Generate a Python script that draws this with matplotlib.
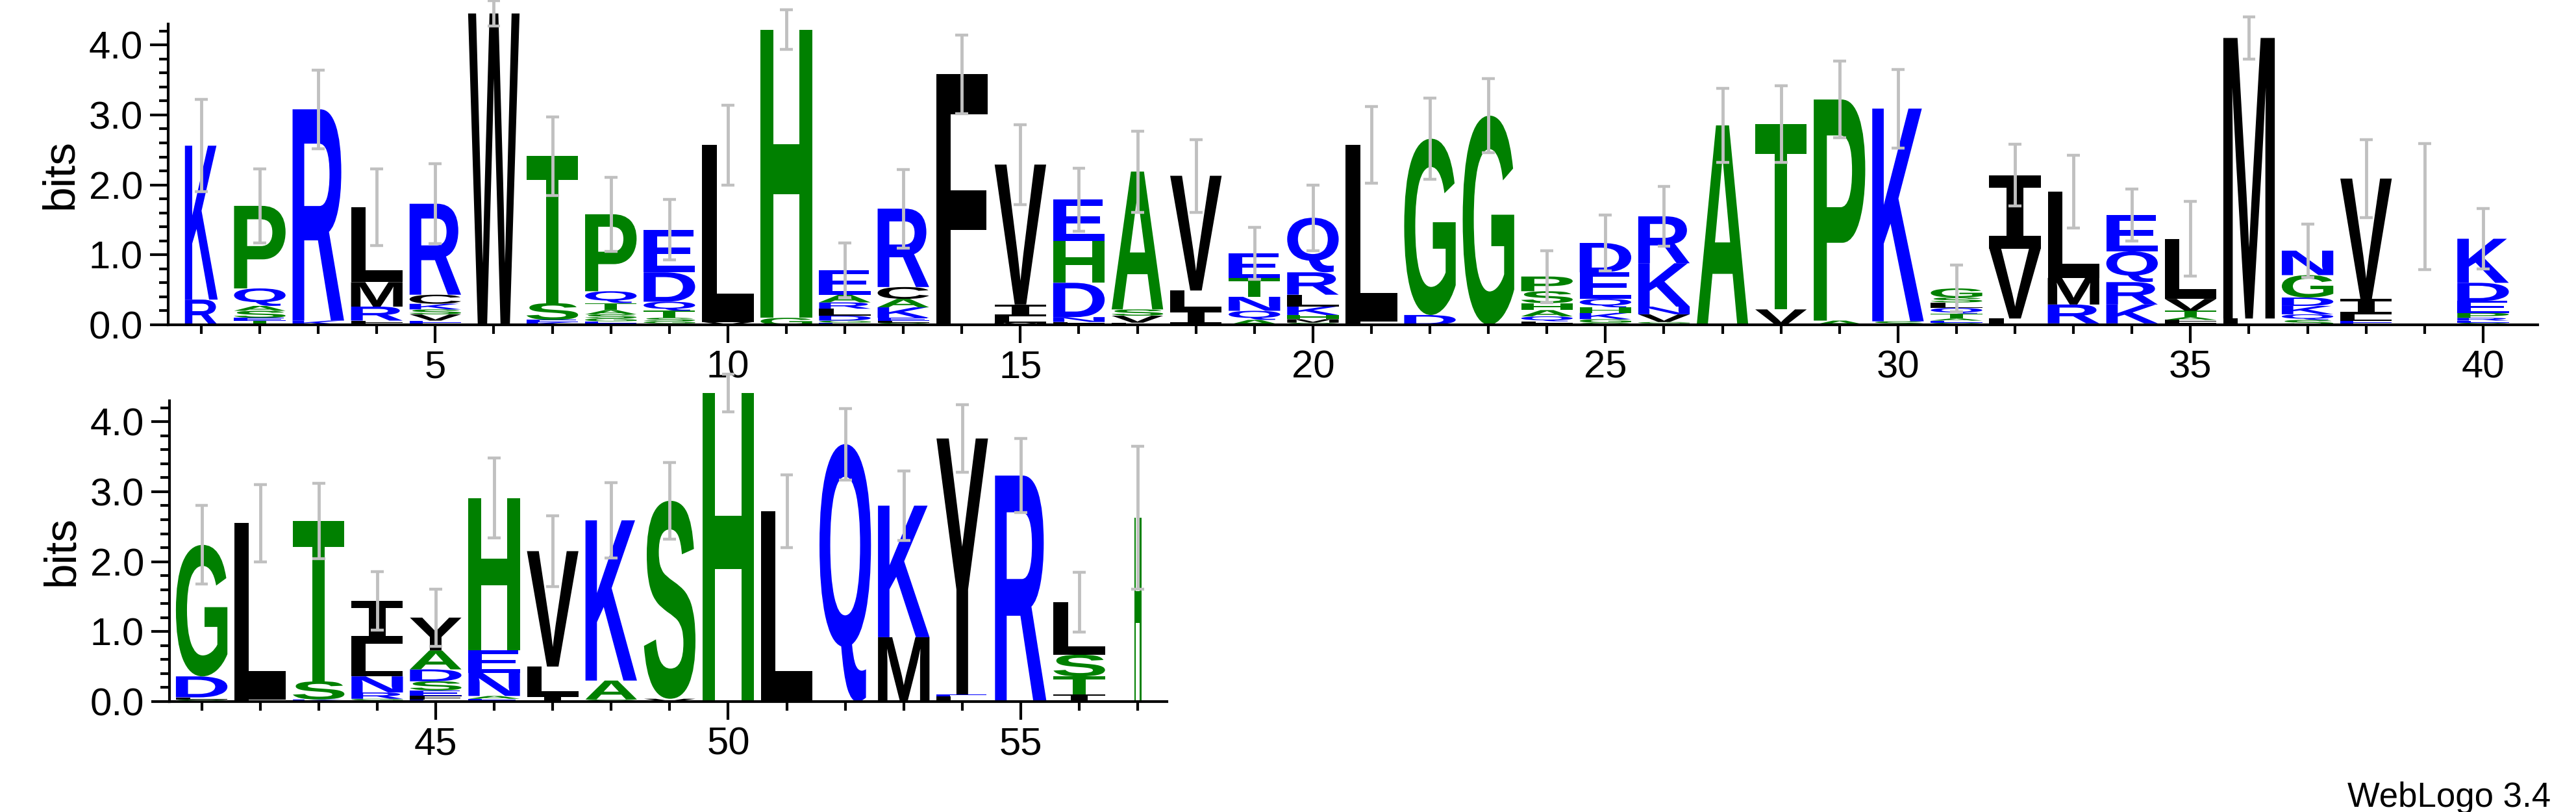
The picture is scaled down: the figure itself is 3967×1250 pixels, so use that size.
import matplotlib
matplotlib.use("Agg")
import matplotlib.pyplot as plt
from matplotlib.textpath import TextPath
from matplotlib.font_manager import FontProperties
from matplotlib.patches import PathPatch
from matplotlib.transforms import Affine2D
from matplotlib.ticker import MultipleLocator

plt.rcParams['font.family'] = ['Liberation Sans', 'DejaVu Sans']

# ---- data: letters bottom->top and their heights (bits) per position ----
positions = list(range(1, 58))
letters = [
    "RK", "LTESAQP", "KR", "LLRML", "EEVSKCR", "W", "KEST", "LEGSATQP", "LGSTQDE", "VL",
    "GH", "EGDLRAE", "GLEKACR", "LF", "MLIV", "ELNDHE", "LVSA", "ILV", "AQNTE", "GMHKLRQ",
    "LL", "DG", "G", "LLQAHSP", "GGKHQED", "EGVNKR", "A", "VT", "AP", "SK",
    "GEATQLSG", "LVI", "LRML", "EKRQE", "ELLATVL", "LM", "SQKDGN", "EELIV", "T", "GERPEDK",
    "GLDG", "LL", "KST", "LGRNLI", "EFESDAY", "EANEH", "ILV", "GAK", "VS", "H",
    "L", "Q", "MK", "LEY", "R", "ITSL", "H",
]
heights = [
    [0.36, 2.2], [0.02, 0.04, 0.04, 0.1, 0.07, 0.25, 1.18], [0.06, 3.02], [0.03, 0.03, 0.2, 0.35, 1.07],
    [0.03, 0.03, 0.09, 0.07, 0.08, 0.13, 1.3], [4.45], [0.04, 0.03, 0.24, 2.1],
    [0.02, 0.03, 0.04, 0.06, 0.06, 0.1, 0.17, 1.1], [0.02, 0.03, 0.05, 0.1, 0.13, 0.42, 0.61], [0.04, 2.53],
    [0.1, 4.12], [0.03, 0.03, 0.07, 0.1, 0.09, 0.11, 0.35], [0.03, 0.03, 0.04, 0.15, 0.12, 0.17, 1.12],
    [0.06, 3.52], [0.03, 0.09, 0.17, 2.0], [0.02, 0.02, 0.07, 0.49, 0.6, 0.59], [0.03, 0.1, 0.09, 1.97],
    [0.21, 0.28, 1.64], [0.07, 0.13, 0.2, 0.27, 0.35], [0.03, 0.05, 0.06, 0.12, 0.17, 0.32, 0.78],
    [0.05, 2.52], [0.14, 2.52], [2.99], [0.02, 0.03, 0.07, 0.09, 0.1, 0.17, 0.21],
    [0.03, 0.05, 0.09, 0.08, 0.12, 0.38, 0.42], [0.02, 0.02, 0.11, 0.11, 0.62, 0.67], [2.85], [0.22, 2.65],
    [0.06, 3.16], [0.05, 3.04],
    [0.03, 0.03, 0.03, 0.07, 0.08, 0.08, 0.07, 0.13], [0.09, 1.0, 1.05], [0.02, 0.27, 0.38, 1.23],
    [0.02, 0.27, 0.32, 0.44, 0.52], [0.02, 0.03, 0.02, 0.04, 0.09, 0.17, 0.86], [0.09, 4.01],
    [0.07, 0.08, 0.12, 0.12, 0.32, 0.35], [0.03, 0.03, 0.09, 0.22, 1.72], [1.69],
    [0.03, 0.03, 0.04, 0.07, 0.17, 0.26, 0.63],
    [0.03, 0.03, 0.3, 1.88], [0.03, 2.52], [0.03, 0.26, 2.29], [0.02, 0.02, 0.09, 0.23, 0.47, 0.61],
    [0.03, 0.05, 0.08, 0.13, 0.17, 0.27, 0.47], [0.04, 0.04, 0.33, 0.32, 2.18], [0.08, 0.42, 1.65],
    [0.03, 0.27, 2.29], [0.04, 2.83], [4.41], [2.72], [3.68], [0.92, 1.88], [0.07, 0.03, 3.66], [3.23],
    [0.1, 0.26, 0.31, 0.75], [2.63],
]
errors = [
    0.66, 0.53, 0.56, 0.55, 0.57, 0.18, 0.56, 0.53, 0.43, 0.57,
    0.28, 0.39, 0.56, 0.56, 0.57, 0.45, 0.58, 0.52, 0.37, 0.47,
    0.55, 0.58, 0.53, 0.37, 0.40, 0.43, 0.53, 0.55, 0.55, 0.56,
    0.33, 0.44, 0.52, 0.37, 0.53, 0.30, 0.38, 0.56, 0.90, 0.43,
    0.56, 0.55, 0.54, 0.42, 0.41, 0.57, 0.51, 0.54, 0.55, 0.27,
    0.52, 0.51, 0.50, 0.48, 0.53, 0.43, 1.02,
]
col_width = [0.56] + [0.88] * 37 + [0.02] + [0.88] * 17 + [0.125]

colors = {}
for c in "QNDEKR":
    colors[c] = "#0000ff"
for c in "GSTAPH":
    colors[c] = "#008000"
for c in "LMVIFWYC":
    colors[c] = "#000000"

W, H = 3967, 1250
fig = plt.figure(figsize=(W / 100, H / 100), dpi=100)
fp = FontProperties(family="Liberation Sans", weight="bold")
fp_serif_i = FontProperties(family="DejaVu Sans Mono", weight="bold")
cache = {}


def glyph(ch):
    if ch not in cache:
        p = TextPath((0, 0), ch, size=1, prop=fp_serif_i if ch == "I" else fp)
        ext = p.get_extents()
        cache[ch] = (p, ext)
    return cache[ch]


def draw_row(ax, pos_range):
    for i in pos_range:
        x = positions[i]
        w = col_width[i]
        y0 = 0.0
        for ch, h in zip(letters[i], heights[i]):
            p, ext = glyph(ch)
            tr = (Affine2D().translate(-ext.x0, -ext.y0)
                  .scale(w / ext.width, h / ext.height)
                  .translate(x - w / 2, y0))
            patch = PathPatch(tr.transform_path(p), fc=colors[ch], ec="none",
                              clip_on=False, zorder=2)
            ax.add_patch(patch)
            y0 += h
        e = errors[i]
        ax.plot([x, x], [y0 - e, y0 + e], color="#c0c0c0", lw=3.5,
                solid_capstyle="butt", zorder=3, clip_on=False)
        for yy in (y0 - e, y0 + e):
            ax.plot([x - 0.11, x + 0.11], [yy, yy], color="#c0c0c0", lw=3.2,
                    solid_capstyle="butt", zorder=3, clip_on=False)


def style(ax, xlim, major):
    ax.set_xlim(*xlim)
    ax.set_ylim(0, 4.3)
    for s in ("top", "right"):
        ax.spines[s].set_visible(False)
    for s in ("left", "bottom"):
        ax.spines[s].set_linewidth(3)
    ax.set_xticks(major)
    ax.set_xticklabels([str(m) for m in major])
    ax.xaxis.set_minor_locator(MultipleLocator(1))
    ax.set_yticks([0, 1, 2, 3, 4])
    ax.set_yticklabels(["0.0", "1.0", "2.0", "3.0", "4.0"])
    ax.yaxis.set_minor_locator(MultipleLocator(0.2))
    ax.tick_params(axis="both", which="major", labelsize=43, width=3, length=20, pad=8)
    ax.tick_params(axis="both", which="minor", width=3, length=10)
    ax.set_ylabel("bits", fontsize=50, labelpad=8)
    ax.patch.set_alpha(0)


unit = 90.1
ax1 = fig.add_axes([259 / W, 0.6, (40.93 - 0.434) * unit / W, 4.3 * 107.7 / H])
draw_row(ax1, range(0, 40))
style(ax1, (0.434, 40.93), [5, 10, 15, 20, 25, 30, 35, 40])

ax2 = fig.add_axes([261 / W, 0.136, (57.5 - 40.45) * unit / W, 4.3 * 107.7 / H])
draw_row(ax2, range(40, 57))
style(ax2, (40.45, 57.5), [45, 50, 55])

fig.text(3928 / W, 1 - 1228 / H, "WebLogo 3.4", fontsize=38, ha="right", va="center")

fig.savefig("out.png", dpi=100)
